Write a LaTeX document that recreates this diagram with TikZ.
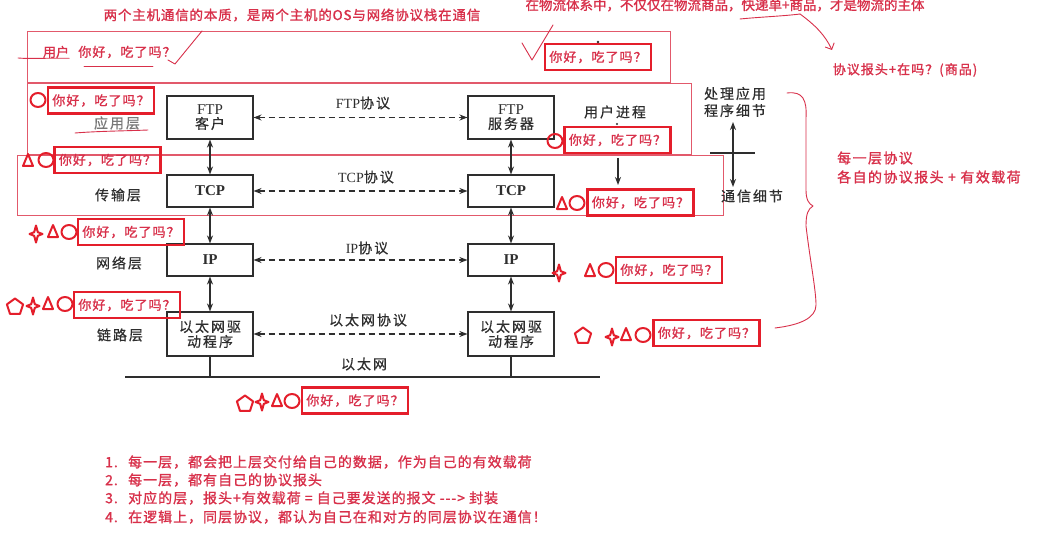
\documentclass[tikz,border=0pt]{standalone}
\usepackage{fontspec}
\setmainfont{Noto Sans CJK SC}
\newfontfamily\cjkA[LetterSpace=8,FakeBold=1.2]{Noto Sans CJK SC}
\newfontfamily\cjkT[LetterSpace=6,FakeBold=1.2]{Noto Sans CJK SC}
\newfontfamily\cjkL[LetterSpace=7,FakeBold=1.2]{Noto Sans CJK SC}
\newfontfamily\cjkE[LetterSpace=10,FakeBold=1.2]{Noto Sans CJK SC}
\newfontfamily\cjkP[FakeBold=1.2]{Noto Sans CJK SC}
\newfontfamily\cjkB[LetterSpace=14,FakeBold=0.5]{Noto Sans CJK SC}
\newfontfamily\serifL{Liberation Serif}
\usetikzlibrary{arrows.meta}
\definecolor{redbox}{HTML}{E41E2B}
\definecolor{redtxt}{HTML}{D8304A}
\definecolor{redthin}{HTML}{E2596B}
\definecolor{ink}{HTML}{2E2E2E}
\newcommand{\myfs}[1]{\fontsize{#1}{#1}\selectfont}
\tikzset{
  greet/.style={draw=redbox, line width=2.2pt, text=redtxt, minimum width=106pt, minimum height=26pt, inner sep=0pt, font=\cjkA\myfs{13}},
  blk/.style={draw=ink, line width=1.1pt, text=ink, inner sep=0pt, minimum width=86pt, align=center},
  lbl/.style={text=ink, font=\cjkB\myfs{14}, inner sep=0pt},
  rtxt/.style={text=redtxt, inner sep=0pt},
  shp/.style={draw=redbox, line width=2pt, line join=round},
  thinred/.style={draw=redthin, line width=0.9pt},
  dasharrow/.style={draw=ink, line width=1.1pt, dash pattern=on 6pt off 4pt, {Stealth[length=8pt,width=6pt]}-{Stealth[length=8pt,width=6pt]}},
  varrow/.style={draw=ink, line width=1.3pt, {Stealth[length=8pt,width=6pt]}-{Stealth[length=8pt,width=6pt]}},
  hand/.style={draw=redtxt, line width=0.9pt, line cap=round, line join=round},
  rcirc/.pic={\draw[shp] (0,0) ellipse [x radius=7.5pt, y radius=7pt];},
  rtri/.pic={\draw[shp] (0,-6) -- (5,6) -- (-5,6) -- cycle;},
  rstar/.pic={\draw[shp] (0,-8.5) -- (1.8,-1.8) -- (6.5,0) -- (1.8,1.8) -- (0,8.5) -- (-1.8,1.8) -- (-6.5,0) -- (-1.8,-1.8) -- cycle;},
  rpent/.pic={\draw[shp] (0,-8.5) -- (8.08,-2.63) -- (5,6.88) -- (-5,6.88) -- (-8.08,-2.63) -- cycle;},
}
\begin{document}
\begin{tikzpicture}[x=1pt,y=-1pt]
\useasboundingbox (0,0) rectangle (1063,559);
\fill[white] (0,0) rectangle (1063,559);

% thin red layer rectangles
\draw[thinred] (27,31) rectangle (670,82);
\draw[thinred] (27,83) rectangle (691,154);
\draw[thinred] (17,155) rectangle (723,215);

% top annotations
\node[rtxt, font=\cjkT\myfs{13.5}] (title) at (292,15) {两个主机通信的本质，是两个主机的OS与网络协议栈在通信};
\node[rtxt, font=\cjkP\myfs{13.5}] (logi) at (725,5) {在物流体系中，不仅仅在物流商品，快递单+商品，才是物流的主体};
\node[rtxt, font=\cjkA\myfs{13}] (hdr) at (905,70) {协议报头+在吗？(商品)};
\coordinate (ulA) at (740,19);
\coordinate (ulB) at (800,14);
\coordinate (arrEnd) at (832,50);
\draw[hand] (ulA) .. controls (760,17) and (785,16) .. (ulB);
\draw[hand, -{Straight Barb[length=5pt]}] (ulB) .. controls (815,25) and (825,35) .. (arrEnd);

% user row
\node[rtxt, font=\cjkP\myfs{13}] (user) at (56,52) {用户};
\node[rtxt, font=\cjkA\myfs{13}] (userg) at (127,52) {你好，吃了吗？};
\draw[hand] (18,58) .. controls (30,59) and (40,58) .. (user.south east);
\draw[hand] (84,66) -- (153,66);
\draw[hand] (168,60) -- (175,64) -- (202,31);
\draw[hand] (522,43) -- (532,60) -- (553,25);
\node[greet] (gtop) at (598,57) {你好，吃了吗？};
\fill[ink] (598,42) circle (1.3pt);

% black protocol diagram
\node[blk, minimum height=43pt] (ftpc) at (210,117.5) {{\serifL\myfs{15}FTP}\\[2pt]{\cjkB\myfs{14}客户}};
\node[blk, minimum height=43pt] (ftps) at (511,117.5) {{\serifL\myfs{15}FTP}\\[2pt]{\cjkB\myfs{14}服务器}};
\node[blk, minimum height=32pt, font=\serifL\bfseries\myfs{15}] (tcpc) at (210,191) {TCP};
\node[blk, minimum height=32pt, font=\serifL\bfseries\myfs{15}] (tcps) at (511,191) {TCP};
\node[blk, minimum height=32pt, font=\serifL\bfseries\myfs{15}] (ipc) at (210,260) {IP};
\node[blk, minimum height=32pt, font=\serifL\bfseries\myfs{15}] (ips) at (511,260) {IP};
\node[blk, minimum height=44pt, font=\cjkB\myfs{14}] (ethc) at (210,334) {以太网驱\\[1pt]动程序};
\node[blk, minimum height=44pt, font=\cjkB\myfs{14}] (eths) at (511,334) {以太网驱\\[1pt]动程序};

\draw[varrow] (ftpc) -- (tcpc);
\draw[varrow] (tcpc) -- (ipc);
\draw[varrow] (ipc) -- (ethc);
\draw[varrow] (ftps) -- (tcps);
\draw[varrow] (tcps) -- (ips);
\draw[varrow] (ips) -- (eths);

\draw[dasharrow] (ftpc) -- (ftps);
\draw[dasharrow] (tcpc) -- (tcps);
\draw[dasharrow] (ipc) -- (ips);
\draw[dasharrow] (ethc) -- (eths);

\coordinate (busL) at (125,377);
\coordinate (busR) at (600,377);
\draw[ink, line width=2.2pt] (busL) -- (busR);
\draw[ink, line width=1.1pt] (ethc) -- (ethc |- busL);
\draw[ink, line width=1.1pt] (eths) -- (eths |- busL);

\node[lbl] (pftp) at (363,103) {{\serifL\myfs{14}FTP}协议};
\node[lbl] (ptcp) at (366,177) {{\serifL\myfs{14}TCP}协议};
\node[lbl] (pip) at (367,248) {{\serifL\myfs{14}IP}协议};
\node[lbl] (peth) at (368,320) {以太网协议};
\node[lbl] (pbus) at (364,364) {以太网};

\node[lbl, text=ink!65] (lapp) at (117,123) {应用层};
\draw[hand] (75,133) .. controls (100,131) and (125,131) .. (148,130);
\node[lbl] (ltcp) at (118,195) {传输层};
\node[lbl] (lip) at (119,263) {网络层};
\node[lbl] (leth) at (120,335) {链路层};

\node[lbl] (uproc) at (615,112) {用户进程};
\fill[ink] (617,124) circle (1.2pt);
\coordinate (dnA) at (618,158);
\coordinate (dnB) at (618,185);
\draw[ink, line width=1.3pt, -{Stealth[length=8pt,width=6pt]}] (dnA) -- (dnB);

\node[lbl, align=center] (proc) at (735,102) {处理应用\\[3pt]程序细节};
\node[lbl] (comm) at (752,196) {通信细节};
\coordinate (vaT) at (733,122);
\coordinate (vaB) at (733,187);
\draw[varrow] (vaT) -- (vaB);
\coordinate (hlL) at (710,153);
\coordinate (hlR) at (755,153);
\draw[ink, line width=1.1pt] (hlL) -- (hlR);

% brace
\draw[hand] (787,93) .. controls (803,91) and (807,100) .. (806,118) -- (806,190) .. controls (806,200) and (809,204) .. (813,206) .. controls (808,209) and (806,214) .. (806,226) .. controls (810,260) and (816,290) .. (816,305) .. controls (816,318) and (800,325) .. (775,328);
\node[rtxt, font=\cjkE\myfs{14}, anchor=west] (each1) at (837,158) {每一层协议};
\node[rtxt, font=\cjkE\myfs{14}, anchor=west] (each2) at (837,177) {各自的协议报头 + 有效载荷};

% greeting boxes with shapes
\node[greet] (gappL) at (101,100.5) {你好，吃了吗？};
\pic at (38,100) {rcirc};

\node[greet] (gtcpL) at (107.5,160) {你好，吃了吗？};
\pic at (28,160) {rtri};
\pic at (46,160) {rcirc};

\node[greet] (gipL) at (131,232) {你好，吃了吗？};
\pic at (36,234) {rstar};
\pic at (53,231) {rtri};
\pic at (69,232) {rcirc};

\node[greet] (gethL) at (127,305) {你好，吃了吗？};
\pic at (15,307) {rpent};
\pic at (33,306) {rstar};
\pic at (48,303) {rtri};
\pic at (65,304) {rcirc};

\node[greet] (gbus) at (355,400.5) {你好，吃了吗？};
\pic at (245,404) {rpent};
\pic at (262,402) {rstar};
\pic at (277,400) {rtri};
\pic at (292,401) {rcirc};

\node[greet] (gappR) at (617.5,140) {你好，吃了吗？};
\pic at (555,141) {rcirc};

\node[greet] (gtcpR) at (640.5,202.5) {你好，吃了吗？};
\pic at (562,203) {rtri};
\pic at (577,203) {rcirc};

\node[greet] (gipR) at (669,270) {你好，吃了吗？};
\pic at (559,273) {rstar};
\pic at (590,270) {rtri};
\pic at (606,270) {rcirc};

\node[greet] (gethR) at (706.5,333) {你好，吃了吗？};
\pic at (583,336) {rpent};
\pic at (612,337) {rstar};
\pic at (626,334) {rtri};
\pic at (643,335) {rcirc};

% bottom list
\node[rtxt, font=\cjkL\myfs{14}, anchor=west] (n1) at (105,462) {\makebox[23pt][l]{1.}每一层，都会把上层交付给自己的数据，作为自己的有效载荷};
\node[rtxt, font=\cjkL\myfs{14}, anchor=west] (n2) at (105,480) {\makebox[23pt][l]{2.}每一层，都有自己的协议报头};
\node[rtxt, font=\cjkL\myfs{14}, anchor=west] (n3) at (105,498) {\makebox[23pt][l]{3.}对应的层，报头+有效载荷 = 自己要发送的报文 ---> 封装};
\node[rtxt, font=\cjkL\myfs{14}, anchor=west] (n4) at (105,517) {\makebox[23pt][l]{4.}在逻辑上，同层协议，都认为自己在和对方的同层协议在通信！};
\end{tikzpicture}
\end{document}
